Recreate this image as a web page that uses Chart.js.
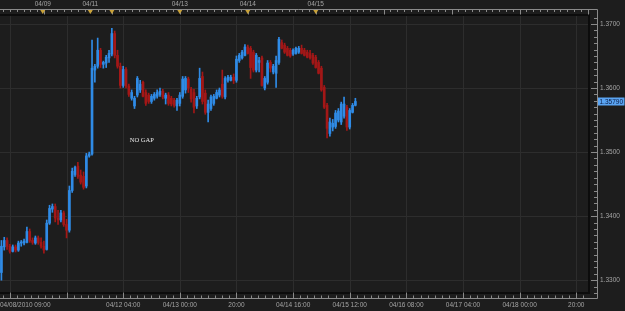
<!DOCTYPE html>
<html>
<head>
<meta charset="utf-8">
<script src="https://cdn.jsdelivr.net/npm/chart.js@4.4.0/dist/chart.umd.min.js"></script>
<style>
  html, body { margin: 0; padding: 0; background: #1d1d1d; }
  canvas { display: block; }
</style>
</head>
<body>
<canvas id="chart" width="625" height="311"></canvas>
<script>
// hourly EUR/USD-style candles
const opens = [
  1.3312, 1.3352, 1.3362, 1.3353, 1.3345, 1.3352, 1.3347, 1.3358, 1.3358, 1.3359,
  1.3376, 1.3362, 1.3358, 1.3366, 1.3359, 1.3353, 1.3348, 1.3389, 1.3411, 1.3415,
  1.3397, 1.3394, 1.3405, 1.3387, 1.3378, 1.3440, 1.3465, 1.3478, 1.3464, 1.3462,
  1.3447, 1.3494, 1.3497, 1.3628, 1.3634, 1.3659, 1.3637, 1.3639, 1.3647, 1.3653,
  1.3685, 1.3651, 1.3634, 1.3604, 1.3629, 1.3603, 1.3584, 1.3572, 1.3589, 1.3597,
  1.3609, 1.3593, 1.3589, 1.3579, 1.3584, 1.3587, 1.3590, 1.3595, 1.3584, 1.3589,
  1.3584, 1.3581, 1.3572, 1.3576, 1.3587, 1.3597, 1.3614, 1.3598, 1.3593, 1.3572,
  1.3586, 1.3618, 1.3592, 1.3562, 1.3568, 1.3576, 1.3584, 1.3589, 1.3606, 1.3586,
  1.3612, 1.3612, 1.3617, 1.3612, 1.3643, 1.3647, 1.3651, 1.3664, 1.3662, 1.3656,
  1.3628, 1.3640, 1.3647, 1.3600, 1.3609, 1.3640, 1.3625, 1.3623, 1.3640, 1.3671,
  1.3667, 1.3662, 1.3659, 1.3653, 1.3654, 1.3656, 1.3662, 1.3659, 1.3656, 1.3654,
  1.3651, 1.3648, 1.3640, 1.3631, 1.3601, 1.3573, 1.3529, 1.3539, 1.3540, 1.3550,
  1.3547, 1.3556, 1.3570, 1.3539, 1.3562, 1.3573
];
const highs = [
  1.3362, 1.3367, 1.3366, 1.3356, 1.3355, 1.3355, 1.3361, 1.3362, 1.3364, 1.3383,
  1.3380, 1.3366, 1.3369, 1.3369, 1.3366, 1.3361, 1.3394, 1.3417, 1.3419, 1.3419,
  1.3409, 1.3409, 1.3408, 1.3395, 1.3447, 1.3475, 1.3478, 1.3484, 1.3472, 1.3469,
  1.3498, 1.3500, 1.3675, 1.3637, 1.3678, 1.3662, 1.3642, 1.3651, 1.3659, 1.3693,
  1.3689, 1.3659, 1.3639, 1.3634, 1.3632, 1.3606, 1.3597, 1.3587, 1.3618, 1.3612,
  1.3611, 1.3597, 1.3592, 1.3590, 1.3593, 1.3597, 1.3600, 1.3598, 1.3592, 1.3593,
  1.3587, 1.3584, 1.3584, 1.3593, 1.3618, 1.3618, 1.3617, 1.3601, 1.3598, 1.3587,
  1.3631, 1.3625, 1.3597, 1.3581, 1.3589, 1.3590, 1.3597, 1.3600, 1.3628, 1.3618,
  1.3620, 1.3620, 1.3622, 1.3650, 1.3654, 1.3659, 1.3668, 1.3667, 1.3665, 1.3659,
  1.3654, 1.3648, 1.3650, 1.3618, 1.3643, 1.3643, 1.3637, 1.3650, 1.3679, 1.3675,
  1.3670, 1.3665, 1.3662, 1.3661, 1.3664, 1.3665, 1.3667, 1.3662, 1.3659, 1.3659,
  1.3654, 1.3651, 1.3643, 1.3634, 1.3604, 1.3576, 1.3553, 1.3551, 1.3565, 1.3568,
  1.3578, 1.3586, 1.3573, 1.3568, 1.3576, 1.3584
];
const lows = [
  1.3300, 1.3347, 1.3348, 1.3342, 1.3344, 1.3344, 1.3345, 1.3353, 1.3355, 1.3358,
  1.3359, 1.3356, 1.3356, 1.3356, 1.3350, 1.3342, 1.3347, 1.3387, 1.3406, 1.3391,
  1.3387, 1.3391, 1.3384, 1.3366, 1.3375, 1.3437, 1.3462, 1.3459, 1.3450, 1.3442,
  1.3444, 1.3492, 1.3495, 1.3609, 1.3631, 1.3632, 1.3631, 1.3632, 1.3640, 1.3650,
  1.3647, 1.3631, 1.3600, 1.3601, 1.3600, 1.3587, 1.3581, 1.3568, 1.3586, 1.3593,
  1.3586, 1.3573, 1.3576, 1.3576, 1.3581, 1.3584, 1.3587, 1.3583, 1.3575, 1.3573,
  1.3572, 1.3570, 1.3565, 1.3572, 1.3584, 1.3592, 1.3593, 1.3578, 1.3561, 1.3568,
  1.3583, 1.3575, 1.3559, 1.3547, 1.3565, 1.3573, 1.3583, 1.3586, 1.3584, 1.3583,
  1.3609, 1.3611, 1.3607, 1.3609, 1.3640, 1.3645, 1.3650, 1.3653, 1.3615, 1.3625,
  1.3625, 1.3625, 1.3603, 1.3597, 1.3606, 1.3625, 1.3622, 1.3601, 1.3637, 1.3661,
  1.3654, 1.3650, 1.3648, 1.3651, 1.3653, 1.3654, 1.3653, 1.3650, 1.3647, 1.3645,
  1.3637, 1.3631, 1.3622, 1.3595, 1.3568, 1.3522, 1.3525, 1.3533, 1.3537, 1.3547,
  1.3543, 1.3553, 1.3534, 1.3536, 1.3561, 1.3572
];
const closes = [
  1.3353, 1.3362, 1.3353, 1.3345, 1.3352, 1.3347, 1.3358, 1.3359, 1.3361, 1.3376,
  1.3362, 1.3359, 1.3366, 1.3359, 1.3353, 1.3347, 1.3389, 1.3412, 1.3415, 1.3397,
  1.3394, 1.3405, 1.3387, 1.3378, 1.3440, 1.3470, 1.3476, 1.3462, 1.3453, 1.3445,
  1.3494, 1.3497, 1.3631, 1.3634, 1.3659, 1.3637, 1.3640, 1.3648, 1.3654, 1.3685,
  1.3651, 1.3634, 1.3604, 1.3629, 1.3603, 1.3590, 1.3593, 1.3584, 1.3615, 1.3606,
  1.3587, 1.3576, 1.3579, 1.3587, 1.3590, 1.3593, 1.3595, 1.3586, 1.3589, 1.3576,
  1.3575, 1.3573, 1.3581, 1.3589, 1.3614, 1.3615, 1.3600, 1.3583, 1.3570, 1.3584,
  1.3615, 1.3579, 1.3562, 1.3575, 1.3586, 1.3587, 1.3593, 1.3597, 1.3587, 1.3615,
  1.3617, 1.3617, 1.3612, 1.3645, 1.3651, 1.3656, 1.3664, 1.3654, 1.3632, 1.3628,
  1.3651, 1.3643, 1.3604, 1.3615, 1.3639, 1.3631, 1.3634, 1.3643, 1.3676, 1.3662,
  1.3656, 1.3651, 1.3650, 1.3659, 1.3662, 1.3662, 1.3654, 1.3651, 1.3648, 1.3647,
  1.3639, 1.3632, 1.3623, 1.3597, 1.3570, 1.3537, 1.3547, 1.3545, 1.3561, 1.3564,
  1.3575, 1.3575, 1.3539, 1.3565, 1.3573, 1.3579
];

// hour slots on the x axis (empty ones on the right are future bars)
const slotCount = 208;

// bottom time axis: slot index of each labelled grid line
const gridIdx = [3, 23, 43, 63, 83, 103, 123, 143, 163, 183, 203];
const bottomTickIdx = [3, 43, 63, 83, 103, 123, 143, 163, 183, 203];
const bottomTickText = ['04/08/2010 09:00', '04/12 04:00', '04/13 00:00', '20:00', '04/14 16:00',
                        '04/15 12:00', '04/16 08:00', '04/17 04:00', '04/18 00:00', '20:00'];

// top day strip: day starts (gold markers)
const dayIdx = [14.6, 31.4, 39, 63, 87, 111];
const dayText = ['04/09', '04/11', '', '04/13', '04/14', '04/15'];

// price axis
const priceTicks = [1.33, 1.34, 1.35, 1.36, 1.37];
const priceMin = 1.3280;
const priceMax = 1.3714;

const note = {text: 'NO GAP', idx: 49.6, price: 1.3519};

const UP = '#2f8be6';
const DOWN = '#a31717';
const AXIS = '#8a8a8a';
const LABEL = '#a4a4a4';
const FONT = '6.5px "Liberation Sans", Arial, sans-serif';

const labels = [];
for (let i = 0; i < slotCount; i++) labels.push(String(i));

const candleColor = (ctx) => closes[ctx.dataIndex] >= opens[ctx.dataIndex] ? UP : DOWN;

const frame = {
    id: 'frame',
    beforeDraw(chart) {
        const {ctx} = chart;
        ctx.save();
        ctx.fillStyle = '#1d1d1d';
        ctx.fillRect(0, 0, chart.width, chart.height);
        ctx.restore();
    },
    beforeDatasetsDraw(chart) {
        const {ctx, chartArea: a, scales: {x, y}} = chart;
        ctx.save();
        ctx.strokeStyle = '#2d2d2d';
        ctx.lineWidth = 1;
        ctx.beginPath();
        gridIdx.forEach(i => {
            const px = Math.round(x.getPixelForValue(i)) + 0.5;
            ctx.moveTo(px, a.top);
            ctx.lineTo(px, a.bottom);
        });
        priceTicks.forEach(p => {
            const py = Math.round(y.getPixelForValue(p)) + 0.5;
            ctx.moveTo(a.left, py);
            ctx.lineTo(a.right, py);
        });
        ctx.stroke();

        // "NO GAP" note
        ctx.fillStyle = '#e8e8e8';
        ctx.font = '6.5px "Liberation Serif", "Times New Roman", serif';
        ctx.textAlign = 'center';
        ctx.textBaseline = 'middle';
        ctx.fillText(note.text, x.getPixelForValue(note.idx), y.getPixelForValue(note.price));
        ctx.restore();
    },
    afterDraw(chart) {
        const {ctx, chartArea: a, scales: {x, y}} = chart;
        const axisX = 597.5;   // right price axis line
        const topY = 9.5;      // top day strip line
        const botY = 298.5;    // bottom time axis line
        ctx.save();

        // dark frame round the plot
        ctx.strokeStyle = '#0c0c0c';
        ctx.lineWidth = 2;
        ctx.beginPath();
        ctx.moveTo(a.left, a.top);
        ctx.lineTo(a.right, a.top);
        ctx.lineTo(a.right, a.bottom);
        ctx.lineTo(a.left, a.bottom);
        ctx.stroke();

        // axis lines
        ctx.strokeStyle = AXIS;
        ctx.lineWidth = 1;
        ctx.beginPath();
        ctx.moveTo(0, topY); ctx.lineTo(axisX, topY);
        ctx.moveTo(axisX, topY); ctx.lineTo(axisX, botY);
        ctx.moveTo(0, botY); ctx.lineTo(axisX, botY);

        // top strip ticks: 10 per day, taller at day start
        for (let v = 87 - 24 * 4; v < slotCount; v += 2.4) {
            const px = Math.round(x.getPixelForValue(v)) + 0.5;
            if (px < 0 || px > a.right) continue;
            const day = Math.abs(((v - 87) / 24) - Math.round((v - 87) / 24)) < 0.01;
            ctx.moveTo(px, topY);
            ctx.lineTo(px, topY + (day ? 5 : 2.5));
        }

        // bottom ticks: 8 per grid step
        for (let v = 3 - 20; v < slotCount; v += 2.5) {
            const px = Math.round(x.getPixelForValue(v)) + 0.5;
            if (px < 0 || px > a.right) continue;
            const major = Math.abs(((v - 3) / 20) - Math.round((v - 3) / 20)) < 0.01;
            ctx.moveTo(px, botY);
            ctx.lineTo(px, botY - (major ? 6 : 3));
        }

        // right ticks every 0.001
        for (let k = Math.ceil(priceMin * 1000); k <= Math.floor(priceMax * 1000); k++) {
            const py = Math.round(y.getPixelForValue(k / 1000)) + 0.5;
            ctx.moveTo(axisX, py);
            ctx.lineTo(axisX - (k % 10 === 0 ? 6.5 : 3.5), py);
        }
        ctx.stroke();

        // gold day markers
        ctx.fillStyle = '#c9a23a';
        dayIdx.forEach(i => {
            const px = x.getPixelForValue(i);
            ctx.beginPath();
            ctx.moveTo(px - 2.5, topY + 0.5);
            ctx.lineTo(px + 2.5, topY + 0.5);
            ctx.lineTo(px, topY + 4.5);
            ctx.closePath();
            ctx.fill();
        });

        ctx.font = FONT;
        ctx.fillStyle = LABEL;
        ctx.textBaseline = 'middle';
        ctx.textAlign = 'center';
        dayIdx.forEach((i, k) => {
            if (dayText[k]) ctx.fillText(dayText[k], x.getPixelForValue(i), 4);
        });
        bottomTickIdx.forEach((i, k) => {
            const w = ctx.measureText(bottomTickText[k]).width;
            const px = Math.max(w / 2, x.getPixelForValue(i));
            ctx.fillText(bottomTickText[k], px, 305);
        });

        ctx.textAlign = 'left';
        priceTicks.forEach(p => {
            ctx.fillText(p.toFixed(4), 600, y.getPixelForValue(p) + 0.5);
        });

        // last price box
        const last = closes[closes.length - 1];
        const ly = y.getPixelForValue(last);
        const txt = last.toFixed(5);
        const tw = ctx.measureText(txt).width;
        ctx.fillStyle = '#5aa4f2';
        ctx.fillRect(598, Math.round(ly) - 3.5, tw + 3, 8);
        ctx.fillStyle = '#0b1d45';
        ctx.fillText(txt, 599.5, ly + 0.5);

        ctx.restore();
    }
};

new Chart(document.getElementById('chart'), {
    type: 'bar',
    data: {
        labels: labels,
        datasets: [
            {
                label: 'body',
                data: opens.map((o, i) => [o, closes[i]]),
                backgroundColor: candleColor,
                barThickness: 2,
                minBarLength: 1,
                grouped: false
            },
            {
                label: 'wick',
                data: lows.map((l, i) => [l, highs[i]]),
                backgroundColor: candleColor,
                barThickness: 1,
                grouped: false
            }
        ]
    },
    options: {
        responsive: false,
        animation: false,
        devicePixelRatio: 1,
        layout: {padding: {left: 0, top: 15, right: 36, bottom: 18}},
        plugins: {
            legend: {display: false},
            tooltip: {enabled: false}
        },
        scales: {
            x: {display: false, offset: true},
            y: {display: false, min: priceMin, max: priceMax}
        }
    },
    plugins: [frame]
});
</script>
</body>
</html>
